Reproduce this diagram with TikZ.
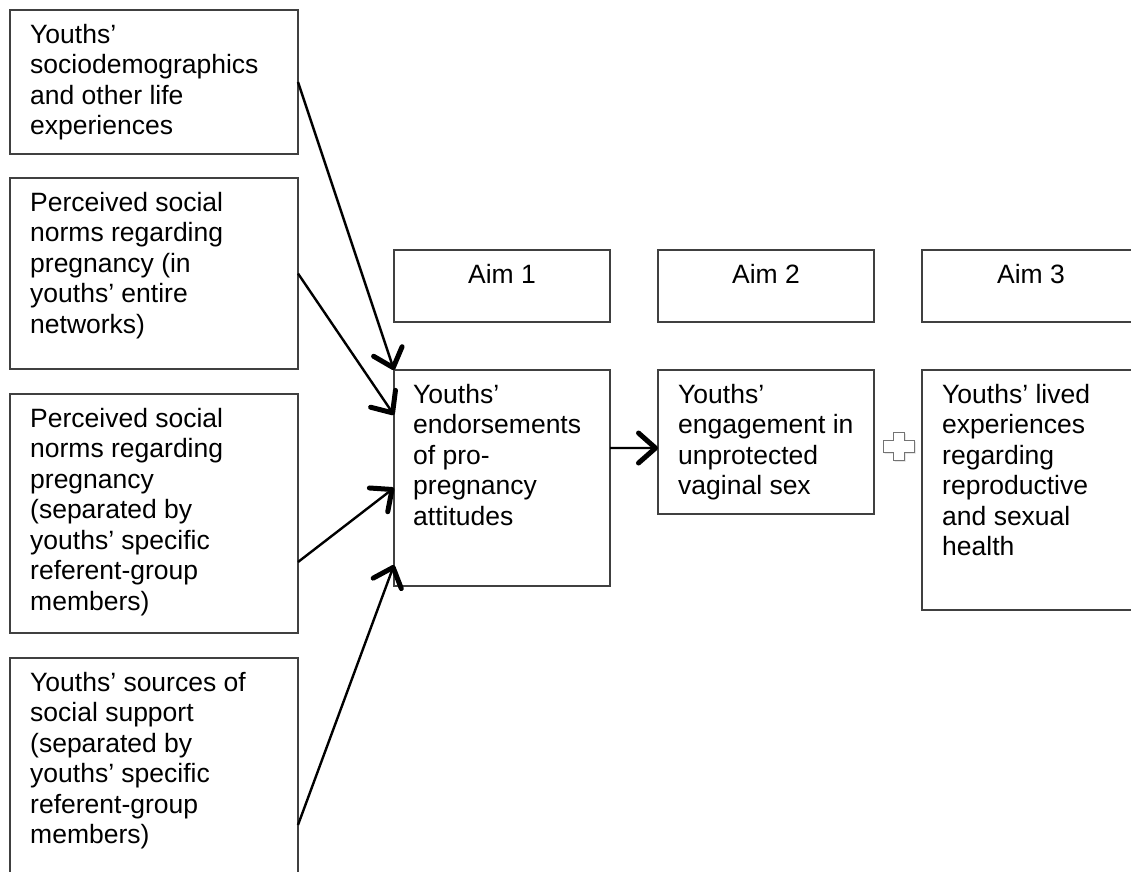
\documentclass[tikz,border=0pt]{standalone}
\usepackage{fontspec}
\setmainfont{Liberation Sans}
\usetikzlibrary{arrows.meta,calc}
\newcommand{\mylines}[1]{\vtop{\baselineskip=30.5pt\lineskiplimit=-100pt\lineskip=0pt\halign{##\hfil\cr#1\crcr}}}
\tikzset{
  box/.style={draw=black!75, line width=1.1pt, inner sep=0pt, outer sep=0pt, anchor=north west},
  txt/.style={anchor=base west, inner sep=0pt, font=\fontsize{26.5}{30.5}\selectfont},
  aimtxt/.style={anchor=base, inner sep=0pt, font=\fontsize{26.5}{30.5}\selectfont},
  con/.style={line width=2.4pt, -{Straight Barb[length=17pt,width=30pt,line width=5pt,round]}},
  plusshape/.style={draw=black!55, fill=white, line width=1pt, line join=miter}
}
\begin{document}
\begin{tikzpicture}[x=1pt,y=-1pt]
\useasboundingbox (0,0) rectangle (1131,871);
\clip (0,0) rectangle (1131,871);
\fill[white] (0,0) rectangle (1131,871);
% left boxes
\node[box, minimum width=288pt, minimum height=144pt] (b1) at (10,10) {};
\node[box, minimum width=288pt, minimum height=191pt] (b2) at (10,178) {};
\node[box, minimum width=288pt, minimum height=239pt] (b3) at (10,394) {};
\node[box, minimum width=288pt, minimum height=222pt] (b4) at (10,658) {};
% aim boxes
\node[box, minimum width=216pt, minimum height=72pt] (aim1) at (394,250) {};
\node[box, minimum width=216pt, minimum height=72pt] (aim2) at (658,250) {};
\node[box, minimum width=218pt, minimum height=72pt] (aim3) at (922,250) {};
% outcome boxes
\node[box, minimum width=216pt, minimum height=216pt] (main) at (394,370) {};
\node[box, minimum width=216pt, minimum height=144pt] (eng) at (658,370) {};
\node[box, minimum width=218pt, minimum height=240pt] (lived) at (922,370) {};
% texts
\node[txt] (t1) at ($(b1.north west)+(20,33)$) {\mylines{Youths’\cr sociodemographics\cr and other life\cr experiences}};
\node[txt] (t2) at ($(b2.north west)+(20,33)$) {\mylines{Perceived social\cr norms regarding\cr pregnancy (in\cr youths’ entire\cr networks)}};
\node[txt] (t3) at ($(b3.north west)+(20,33)$) {\mylines{Perceived social\cr norms regarding\cr pregnancy\cr (separated by\cr youths’ specific\cr referent-group\cr members)}};
\node[txt] (t4) at ($(b4.north west)+(20,33)$) {\mylines{Youths’ sources of\cr social support\cr (separated by\cr youths’ specific\cr referent-group\cr members)}};
\node[aimtxt] (ta1) at ($(aim1.north)+(0,33)$) {Aim 1};
\node[aimtxt] (ta2) at ($(aim2.north)+(0,33)$) {Aim 2};
\node[aimtxt] (ta3) at ($(aim3.north)+(0,33)$) {Aim 3};
\node[txt] (tm) at ($(main.north west)+(19,33)$) {\mylines{Youths’\cr endorsements\cr of pro-\cr pregnancy\cr attitudes}};
\node[txt] (te) at ($(eng.north west)+(20,33)$) {\mylines{Youths’\cr engagement in\cr unprotected\cr vaginal sex}};
\node[txt] (tl) at ($(lived.north west)+(20,33)$) {\mylines{Youths’ lived\cr experiences\cr regarding\cr reproductive\cr and sexual\cr health}};
% connectors
\draw[con] (b1.east) -- (main.north west);
\draw[con] (b2.east) -- ($(main.north west)!0.208!(main.south west)$);
\draw[con] ($(b3.north east)!0.703!(b3.south east)$) -- ($(main.north west)!0.546!(main.south west)$);
\draw[con] ($(b4.north east)!0.752!(b4.south east)$) -- ($(main.north west)!0.903!(main.south west)$);
\draw[con] ($(main.north east)!0.361!(main.south east)$) -- ($(eng.north west)!0.542!(eng.south west)$);
% plus sign
\fill[black!15] ($(893,432)+(1.5,1.5)$) -- ++(11,0) -- ++(0,8) -- ++(10,0) -- ++(0,12) -- ++(-10,0) -- ++(0,8) -- ++(-11,0) -- ++(0,-8) -- ++(-10,0) -- ++(0,-12) -- ++(10,0) -- cycle;
\draw[plusshape] (893,432) -- (904,432) -- (904,440) -- (914,440) -- (914,452) -- (904,452) -- (904,460) -- (893,460) -- (893,452) -- (883,452) -- (883,440) -- (893,440) -- cycle;
\end{tikzpicture}
\end{document}
